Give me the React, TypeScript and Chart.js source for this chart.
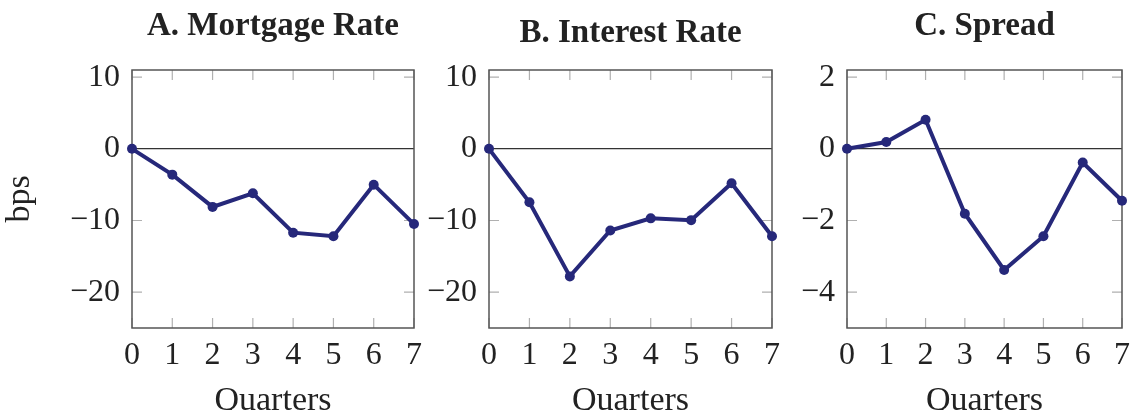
import React, { useEffect, useRef } from "react";
import { Chart, registerables } from "chart.js";

Chart.register(...registerables);

const quarters = [0, 1, 2, 3, 4, 5, 6, 7];
const mortgageRate = [0, -3.6, -8.1, -6.2, -11.7, -12.2, -5.0, -10.5];
const interestRate = [0, -7.45, -17.8, -11.4, -9.7, -9.95, -4.8, -12.2];
const spread = [0, 0.19, 0.81, -1.81, -3.38, -2.44, -0.38, -1.45];
const ticksAB = [-20, -10, 0, 10];
const ticksC = [-4, -2, 0, 2];
const titles = ["A. Mortgage Rate", "B. Interest Rate", "C. Spread"];

const FONT = "'Liberation Serif', 'Times New Roman', serif";
const LINE = "#26287a";

const framePlugin = {
  id: "frame",
  beforeDatasetsDraw(chart: any) {
    const { ctx, chartArea: a, scales } = chart;
    ctx.save();
    ctx.strokeStyle = "#b0b0b0";
    ctx.lineWidth = 1.2;
    const tl = 10;
    scales.x.ticks.forEach((t: any) => {
      const px = scales.x.getPixelForValue(t.value);
      ctx.beginPath();
      ctx.moveTo(px, a.bottom);
      ctx.lineTo(px, a.bottom - tl);
      ctx.moveTo(px, a.top);
      ctx.lineTo(px, a.top + tl);
      ctx.stroke();
    });
    scales.y.ticks.forEach((t: any) => {
      if (t.value === 0) return;
      const py = scales.y.getPixelForValue(t.value);
      ctx.beginPath();
      ctx.moveTo(a.left, py);
      ctx.lineTo(a.left + tl, py);
      ctx.moveTo(a.right, py);
      ctx.lineTo(a.right - tl, py);
      ctx.stroke();
    });
    ctx.strokeStyle = "#555555";
    ctx.lineWidth = 1.5;
    ctx.strokeRect(a.left, a.top, a.right - a.left, a.bottom - a.top);
    ctx.restore();
  },
};

type PanelProps = {
  left: number;
  width: number;
  plotLeft: number;
  plotRight: number;
  title: string;
  titleTop: number;
  values: number[];
  yTicks: number[];
  yMin: number;
  yMax: number;
  yLabel?: string;
};

function Panel(p: PanelProps) {
  const ref = useRef<HTMLCanvasElement>(null);
  useEffect(() => {
    const H = 430;
    const plotTop = 70;
    const plotBottom = 328;
    const titleSize = 33;
    const chart = new Chart(ref.current!, {
      type: "line",
      data: {
        datasets: [
          {
            data: quarters.map((q, i) => ({ x: q, y: p.values[i] })),
            borderColor: LINE,
            backgroundColor: LINE,
            borderWidth: 4,
            pointRadius: 5,
            pointBorderWidth: 0,
            pointBackgroundColor: LINE,
            clip: false as any,
            tension: 0,
          },
        ],
      },
      options: {
        animation: false,
        responsive: false,
        layout: { padding: { left: 0, right: p.left + p.width - p.plotRight, top: 0, bottom: 0 } },
        plugins: {
          legend: { display: false },
          tooltip: { enabled: false },
          title: {
            display: true,
            text: p.title,
            fullSize: false,
            color: "#222",
            font: { family: FONT, size: titleSize, weight: "bold", lineHeight: 1.2 },
            padding: { top: p.titleTop, bottom: plotTop - titleSize * 1.2 - p.titleTop },
          },
        },
        scales: {
          x: {
            type: "linear",
            min: 0,
            max: 7,
            afterBuildTicks: (s: any) => {
              s.ticks = quarters.map((v) => ({ value: v }));
            },
            afterFit: (s: any) => {
              s.height = H - plotBottom;
            },
            grid: { display: false, drawTicks: false },
            border: { display: false },
            ticks: {
              color: "#222",
              padding: 8,
              maxRotation: 0,
              font: { family: FONT, size: 32 },
              callback: (v: any) => String(v),
            },
            title: {
              display: true,
              text: "Quarters",
              color: "#222",
              font: { family: FONT, size: 34, lineHeight: 1.2 },
              padding: { top: 0, bottom: 9 },
            },
          },
          y: {
            type: "linear",
            min: p.yMin,
            max: p.yMax,
            afterBuildTicks: (s: any) => {
              s.ticks = p.yTicks.map((v) => ({ value: v }));
            },
            afterFit: (s: any) => {
              s.width = p.plotLeft - p.left;
            },
            grid: {
              drawTicks: false,
              lineWidth: 1.2,
              color: (c: any) => (c.tick && c.tick.value === 0 ? "#333333" : "rgba(0,0,0,0)"),
            },
            border: { display: false },
            ticks: {
              color: "#222",
              padding: 12,
              font: { family: FONT, size: 32 },
              callback: (v: any) => (v < 0 ? "\u2212" + Math.abs(v) : String(v)),
            },
            title: {
              display: !!p.yLabel,
              text: p.yLabel || "",
              color: "#222",
              font: { family: FONT, size: 34, lineHeight: 1.2 },
              padding: { top: 0, bottom: 0 },
            },
          },
        },
      },
      plugins: [framePlugin],
    });
    return () => chart.destroy();
  }, []);
  return (
    <canvas
      ref={ref}
      width={p.width}
      height={430}
      style={{ position: "absolute", left: p.left, top: 0, width: p.width, height: 430 }}
    />
  );
}

export default function App() {
  useEffect(() => {
    document.body.style.margin = "0";
  }, []);
  return (
    <div style={{ position: "fixed", left: 0, top: 0, width: 1138, height: 410, overflow: "hidden", background: "#fff" }}>
      <Panel left={0} width={440} plotLeft={132} plotRight={414} title={titles[0]} titleTop={7}
        values={mortgageRate} yTicks={ticksAB} yMin={-25} yMax={11} yLabel="bps" />
      <Panel left={360} width={440} plotLeft={489} plotRight={772} title={titles[1]} titleTop={14}
        values={interestRate} yTicks={ticksAB} yMin={-25} yMax={11} />
      <Panel left={720} width={418} plotLeft={847} plotRight={1129} title={titles[2]} titleTop={7}
        values={spread} yTicks={ticksC} yMin={-5} yMax={2.2} />
    </div>
  );
}
